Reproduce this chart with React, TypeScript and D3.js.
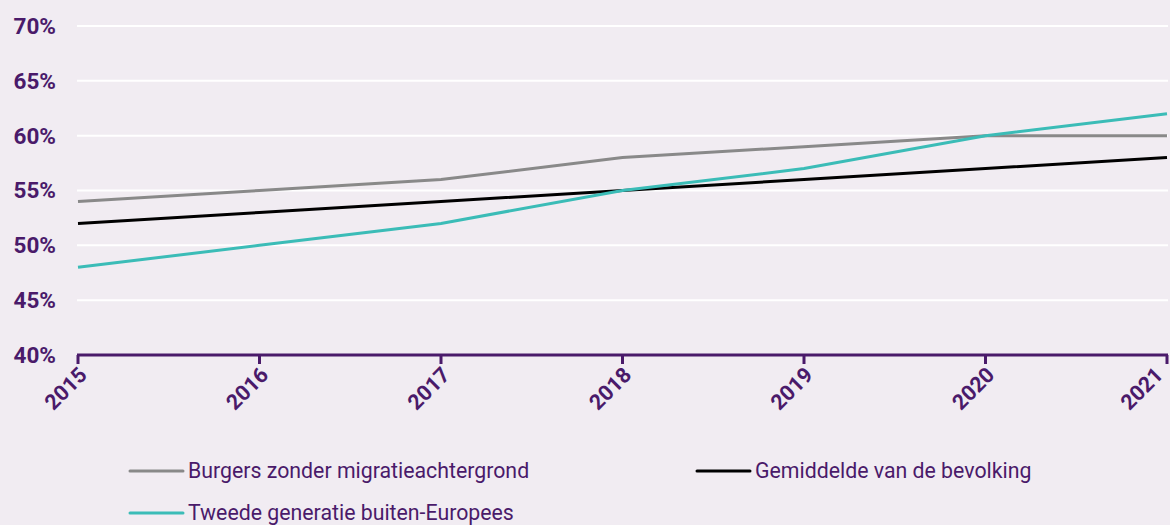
import React from "react";
import * as d3 from "d3";

const years = [2015, 2016, 2017, 2018, 2019, 2020, 2021];
const yTicks = [40, 45, 50, 55, 60, 65, 70];
const burgers = [54, 55, 56, 58, 59, 60, 60];
const gemiddelde = [52, 53, 54, 55, 56, 57, 58];
const tweede = [48, 50, 52, 55, 57, 60, 62];

const seriesNames = [
  "Burgers zonder migratieachtergrond",
  "Gemiddelde van de bevolking",
  "Tweede generatie buiten-Europees",
];
const seriesColors = ["#898989", "#000000", "#3bbcb7"];

const W = 1170;
const H = 525;
const PURPLE = "#4a1a6a";
const BG = "#f1ecf2";

export default function App() {
  const x = d3.scaleLinear().domain([2015, 2021]).range([78, 1167]);
  const y = d3.scaleLinear().domain([40, 70]).range([355, 26]);
  const line = d3
    .line<number>()
    .x((_, i) => x(years[i]))
    .y((d) => y(d));
  const series = [burgers, gemiddelde, tweede];
  const drawOrder = [0, 1, 2];
  const legendPos = [
    { x: 130, y: 471 },
    { x: 697, y: 471 },
    { x: 130, y: 513 },
  ];
  return (
    <svg
      width={W}
      height={H}
      style={{ position: "absolute", left: 0, top: 0, background: BG }}
      fontFamily="Roboto, sans-serif"
    >
      <rect x={0} y={0} width={W} height={H} fill={BG} />
      {yTicks.map((t) => (
        <g key={t}>
          {t > 40 && (
            <line x1={77} x2={1168} y1={y(t)} y2={y(t)} stroke="#ffffff" strokeWidth={2} />
          )}
          <text
            x={56}
            y={y(t)}
            dy="0.35em"
            textAnchor="end"
            fontSize={22.5}
            fontWeight={700}
            fill={PURPLE}
          >
            {t}%
          </text>
        </g>
      ))}
      {drawOrder.map((i) => (
        <path
          key={i}
          d={line(series[i]) || ""}
          fill="none"
          stroke={seriesColors[i]}
          strokeWidth={3}
        />
      ))}
      <line x1={77} x2={1168} y1={355} y2={355} stroke={PURPLE} strokeWidth={3} />
      {years.map((yr) => (
        <g key={yr}>
          <line x1={x(yr)} x2={x(yr)} y1={355} y2={364} stroke={PURPLE} strokeWidth={3} />
          <text
            transform={`translate(${Math.min(x(yr) + 5, 1159)},${371}) rotate(-45)`}
            textAnchor="end"
            dy="0.35em"
            fontSize={21.5}
            fontWeight={700}
            fill={PURPLE}
          >
            {yr}
          </text>
        </g>
      ))}
      {seriesNames.map((n, i) => (
        <g key={n}>
          <line
            x1={legendPos[i].x}
            x2={legendPos[i].x + 53}
            y1={legendPos[i].y}
            y2={legendPos[i].y}
            stroke={seriesColors[i]}
            strokeWidth={3}
            strokeLinecap="round"
          />
          <text
            x={legendPos[i].x + 58}
            y={legendPos[i].y}
            dy="0.35em"
            fontSize={21.3}
            fill={PURPLE}
          >
            {n}
          </text>
        </g>
      ))}
    </svg>
  );
}
